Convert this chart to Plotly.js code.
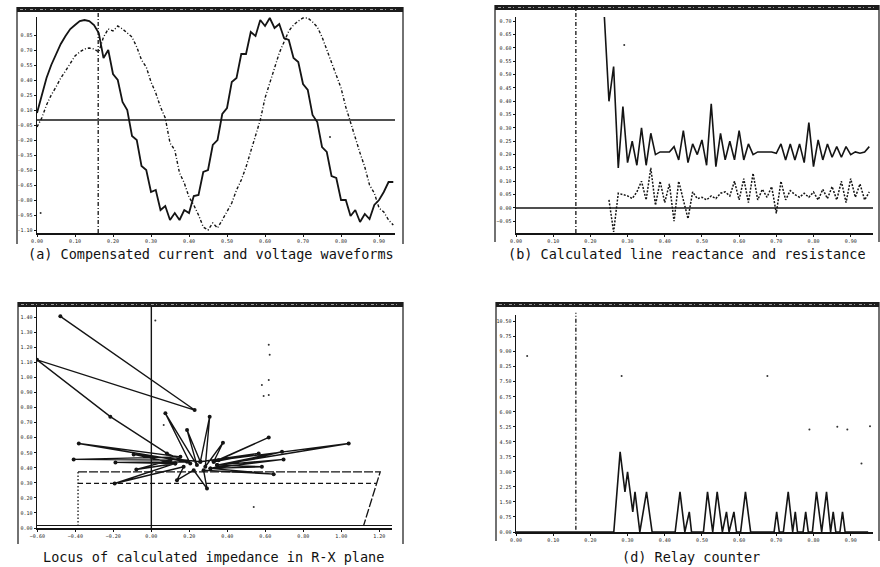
<!DOCTYPE html>
<html><head><meta charset="utf-8">
<script src="https://cdn.plot.ly/plotly-3.0.1.min.js"></script>
<style>html,body{margin:0;padding:0;background:#fff}#chart{width:880px;height:567px}</style>
</head><body><div id="chart"></div>
<script>
const W = 880, H = 567;

// ---------- (a) compensated current and voltage waveforms ----------
const DT = 0.0125;              // sample step (time units of the x axis)
const current = [0.07,0.25,0.42,0.55,0.66,0.76,0.84,0.91,0.95,0.99,1.00,0.99,0.95,0.87,
  0.62,0.70,0.46,0.40,0.18,0.10,-0.16,-0.20,-0.46,-0.50,-0.72,-0.70,-0.90,-0.86,-1.00,-0.93,
  -1.00,-0.90,-0.93,-0.76,-0.75,-0.52,-0.50,-0.25,-0.20,0.06,0.12,0.38,0.42,0.66,0.66,0.88,
  0.84,1.00,0.94,1.02,0.92,0.96,0.82,0.80,0.62,0.58,0.36,0.30,0.05,-0.02,-0.27,-0.32,-0.56,
  -0.58,-0.80,-0.80,-0.96,-0.90,-1.02,-0.94,-0.99,-0.85,-0.80,-0.72,-0.62,-0.62];
const voltage = [-0.07,0.02,0.15,0.25,0.33,0.42,0.49,0.57,0.64,0.68,0.71,0.72,0.71,0.68,
  0.83,0.91,0.89,0.94,0.91,0.87,0.83,0.73,0.60,0.53,0.38,0.27,0.13,0.02,-0.23,-0.30,
  -0.53,-0.63,-0.77,-0.85,-0.95,-1.07,-1.10,-1.03,-1.08,-1.00,-0.92,-0.83,-0.70,-0.60,
  -0.47,-0.32,-0.15,0.00,0.22,0.37,0.53,0.67,0.78,0.89,0.95,0.99,1.02,1.02,0.98,0.93,
  0.83,0.70,0.57,0.43,0.32,0.13,-0.03,-0.17,-0.33,-0.47,-0.65,-0.73,-0.88,-0.92,-1.00,-1.05];
const faultTime = 0.161;
const waveSpeckT = [0.0096, 0.771];
const waveSpeckV = [-0.93, -0.17];

// ---------- (b) calculated line reactance and resistance ----------
const reactanceStart = 19;      // first sample index of the estimate
const reactance = [0.72,0.40,0.53,0.15,0.38,0.17,0.25,0.16,0.30,0.16,0.28,0.20,0.21,0.21,0.21,
  0.23,0.18,0.29,0.17,0.24,0.20,0.255,0.16,0.39,0.155,0.28,0.18,0.25,0.18,0.29,0.18,0.24,0.20,
  0.21,0.21,0.21,0.21,0.205,0.24,0.18,0.24,0.18,0.24,0.17,0.32,0.155,0.255,0.18,0.24,0.19,0.23,
  0.19,0.23,0.20,0.21,0.205,0.21,0.23];
const resistanceStart = 20;
const resistance = [0.03,-0.09,0.055,0.05,0.045,0.035,0.06,0.10,0.03,0.15,0.01,0.10,0.02,0.09,
  -0.05,0.10,0.03,-0.04,0.06,0.035,0.04,0.03,0.045,0.035,0.055,0.06,0.045,0.10,0.03,0.11,0.02,
  0.13,0.03,0.07,0.04,0.08,-0.02,0.10,0.03,0.065,0.05,0.04,0.055,0.04,0.06,0.03,0.07,0.035,0.08,
  0.03,0.10,0.02,0.11,0.04,0.09,0.03,0.06];

// ---------- (c) locus of impedance in R-X plane ----------
const locusR = [-0.479,0.228,-0.602,-0.216,0.082,0.205,0.074,0.240,0.188,0.258,0.307,0.284,0.377,
  0.328,0.618,0.354,1.039,0.346,0.688,0.311,0.696,0.346,0.582,0.311,0.644,0.275,0.293,0.223,0.135,
  0.170,-0.193,0.126,-0.079,0.100,-0.409,0.153,-0.382,0.188,-0.189,0.126,-0.093,0.258,0.565,0.328];
const locusX = [1.407,0.784,1.118,0.740,0.496,0.429,0.762,0.418,0.651,0.440,0.740,0.407,0.567,
  0.440,0.602,0.451,0.562,0.418,0.507,0.396,0.456,0.418,0.407,0.396,0.358,0.384,0.262,0.384,0.318,
  0.407,0.296,0.429,0.389,0.451,0.456,0.473,0.562,0.440,0.436,0.429,0.489,0.440,0.496,0.440];
const charTopR = [-0.386, 1.205, 1.118], charTopX = [0.373, 0.373, 0.018];
const charLowR = [-0.386, 1.188],        charLowX = [0.296, 0.296];
const charLeftR = [-0.386, -0.386],      charLeftX = [0.373, 0.007];
const rxSpeckR = [0.618,0.623,0.618,0.582,0.591,0.618,0.021,0.539,0.065];
const rxSpeckX = [1.218,1.151,0.984,0.951,0.878,0.884,1.380,0.140,0.684];

// ---------- (d) relay counter ----------
const counterT = [0,0.263,0.280,0.293,0.300,0.314,0.320,0.333,0.351,0.366,0.428,0.441,0.454,0.466,
  0.472,0.504,0.515,0.529,0.541,0.555,0.566,0.573,0.586,0.593,0.604,0.617,0.631,0.694,0.701,0.708,
  0.719,0.732,0.744,0.751,0.757,0.772,0.779,0.786,0.797,0.808,0.822,0.835,0.846,0.853,0.860,0.871,
  0.878,0.885,0.947];
const counterN = [0,0,4,2,3,1,2,0,2,0,0,2,0,1,0,0,2,0,2,0,1,0,1,0,0,2,0,0,1,0,0,2,0,1,0,0,1,0,0,
  2,0,2,0,1,0,0,1,0,0];
const cntSpeckT = [0.030,0.284,0.676,0.789,0.864,0.891,0.952,0.929];
const cntSpeckN = [8.78,7.78,7.78,5.12,5.25,5.12,5.28,3.42];

// ---------- tick labels ----------
const timeTicks = [0,0.1,0.2,0.3,0.4,0.5,0.6,0.7,0.8,0.9];
const timeLabels = ['0.00','0.10','0.20','0.30','0.40','0.50','0.60','0.70','0.80','0.90'];
const waveTicks = [-1.10,-0.95,-0.80,-0.65,-0.50,-0.35,-0.20,-0.05,0.10,0.25,0.40,0.55,0.70,0.85];
const waveLabels = ['-1.10','-0.95','-0.80','-0.65','-0.50','-0.35','-0.20','-0.05','0.10','0.25','0.40','0.55','0.70','0.85'];

const captions = ['(a) Compensated current and voltage waveforms',
  '(b) Calculated line reactance and resistance',
  'Locus of calculated impedance in R-X plane',
  '(d) Relay counter'];

// ---------- helpers ----------
const px = v => v / W, py = v => 1 - v / H;
const INK = '#141414';
const tickFont = {family: 'DejaVu Sans Mono, monospace', size: 5, color: '#222'};
function axis(domain, range, extra) {
  return Object.assign({domain, range, showline: true, linecolor: INK, linewidth: 1.5,
    ticks: 'outside', ticklen: 2, tickwidth: 1, tickcolor: INK, showgrid: false,
    zeroline: false, tickfont: tickFont, fixedrange: true}, extra || {});
}
const tA = current.map((_, i) => i * DT);
const tX = reactance.map((_, k) => (reactanceStart + k) * DT);
const tR = resistance.map((_, k) => (resistanceStart + k) * DT);

const traces = [
  {x: tA, y: current, xaxis: 'x', yaxis: 'y', mode: 'lines', line: {color: INK, width: 1.8}},
  {x: tA, y: voltage, xaxis: 'x', yaxis: 'y', mode: 'lines', line: {color: INK, width: 1.4, dash: '3px,2px,1px,2px'}},
  {x: waveSpeckT, y: waveSpeckV, xaxis: 'x', yaxis: 'y', mode: 'markers', marker: {color: '#333', size: 2}},

  {x: tX, y: reactance, xaxis: 'x2', yaxis: 'y2', mode: 'lines', line: {color: INK, width: 1.6}},
  {x: tR, y: resistance, xaxis: 'x2', yaxis: 'y2', mode: 'lines', line: {color: INK, width: 1.5, dash: '2px,1.5px'}},
  {x: [0.291], y: [0.611], xaxis: 'x2', yaxis: 'y2', mode: 'markers', marker: {color: '#333', size: 2}},

  {x: charTopR, y: charTopX, xaxis: 'x3', yaxis: 'y3', mode: 'lines', line: {color: INK, width: 1.3, dash: '9px,2px'}},
  {x: charLowR, y: charLowX, xaxis: 'x3', yaxis: 'y3', mode: 'lines', line: {color: INK, width: 1.3, dash: '5px,3px'}},
  {x: charLeftR, y: charLeftX, xaxis: 'x3', yaxis: 'y3', mode: 'lines', line: {color: INK, width: 1.3, dash: '1.5px,2px'}},
  {x: locusR, y: locusX, xaxis: 'x3', yaxis: 'y3', mode: 'lines+markers',
    line: {color: INK, width: 1.4}, marker: {color: INK, size: 4}},
  {x: rxSpeckR, y: rxSpeckX, xaxis: 'x3', yaxis: 'y3', mode: 'markers', marker: {color: '#333', size: 2}},

  {x: counterT, y: counterN, xaxis: 'x4', yaxis: 'y4', mode: 'lines', line: {color: INK, width: 1.6}},
  {x: cntSpeckT, y: cntSpeckN, xaxis: 'x4', yaxis: 'y4', mode: 'markers', marker: {color: '#333', size: 2}}
];

// panel frames: [left, right, top, bottom] in pixels
const frames = [[17, 403, 7, 244], [495, 879, 5, 242], [18, 403, 302, 544], [496, 879, 302, 541]];
const shapes = [];
frames.forEach(([l, r, t, b]) => {
  shapes.push({type: 'line', xref: 'paper', yref: 'paper', x0: px(l), x1: px(l), y0: py(t), y1: py(b), line: {color: INK, width: 1.2}});
  shapes.push({type: 'line', xref: 'paper', yref: 'paper', x0: px(r), x1: px(r), y0: py(t), y1: py(b), line: {color: INK, width: 1.2}});
  shapes.push({type: 'rect', xref: 'paper', yref: 'paper', x0: px(l), x1: px(r), y0: py(t), y1: py(t + 5), fillcolor: '#1c1c1c', line: {width: 0}});
  shapes.push({type: 'line', xref: 'paper', yref: 'paper', x0: px(l + 3), x1: px(r - 3), y0: py(t + 2.5), y1: py(t + 2.5), line: {color: '#9a9a9a', width: 1, dash: '3px,2px,1px,4px'}});
});
// fault-inception markers and reference lines
shapes.push({type: 'line', xref: 'x', yref: 'y domain', x0: faultTime, x1: faultTime, y0: 0, y1: 1.023, line: {color: INK, width: 1.3, dash: '4px,2px,1px,2px'}});
shapes.push({type: 'line', xref: 'x2', yref: 'y2 domain', x0: faultTime, x1: faultTime, y0: 0, y1: 1.056, line: {color: INK, width: 1.3, dash: '4px,2px,1px,2px'}});
shapes.push({type: 'line', xref: 'x4', yref: 'y4 domain', x0: faultTime, x1: faultTime, y0: 0.01, y1: 1.01, line: {color: INK, width: 1.3, dash: '4px,2px,1px,2px'}});
shapes.push({type: 'line', xref: 'x domain', yref: 'y', x0: 0, x1: 1, y0: 0, y1: 0, line: {color: INK, width: 1.5}});
shapes.push({type: 'line', xref: 'x2 domain', yref: 'y2', x0: 0, x1: 1, y0: 0, y1: 0, line: {color: INK, width: 1.5}});
shapes.push({type: 'line', xref: 'x3', yref: 'y3 domain', x0: 0, x1: 0, y0: 0, y1: 1, line: {color: INK, width: 1.4}});
shapes.push({type: 'line', xref: 'x3 domain', yref: 'paper', x0: 0, x1: 1, y0: py(525.5), y1: py(525.5), line: {color: INK, width: 1}});

const capFont = {family: 'DejaVu Sans Mono, monospace', size: 13.5, color: '#111'};
const capPos = [[211, 254], [687, 254], [213, 557], [691, 557]];
const annotations = captions.map((c, i) => ({text: c, xref: 'paper', yref: 'paper',
  x: px(capPos[i][0]), y: py(capPos[i][1]), xanchor: 'center', yanchor: 'middle',
  showarrow: false, font: capFont}));

const layout = {
  width: W, height: H, autosize: false, showlegend: false,
  margin: {l: 0, r: 0, t: 0, b: 0}, paper_bgcolor: '#fff', plot_bgcolor: '#fff',
  xaxis: axis([px(37), px(395)], [0, 0.942], {anchor: 'y', tickvals: timeTicks, ticktext: timeLabels}),
  yaxis: axis([py(233), py(17)], [-1.13, 1.03], {anchor: 'x', tickvals: waveTicks, ticktext: waveLabels}),
  xaxis2: axis([px(516), px(873)], [0, 0.96], {anchor: 'y2', tickvals: timeTicks, ticktext: timeLabels}),
  yaxis2: axis([py(233), py(17)], [-0.094, 0.716], {anchor: 'x2', dtick: 0.05, tick0: 0, tickformat: '.2f'}),
  xaxis3: axis([px(37), px(392)], [-0.602, 1.267], {anchor: 'y3', dtick: 0.2, tick0: 0, tickformat: '.2f'}),
  yaxis3: axis([py(528), py(307)], [0, 1.469], {anchor: 'x3', dtick: 0.1, tick0: 0, tickformat: '.2f'}),
  xaxis4: axis([px(516), px(873)], [0, 0.96], {anchor: 'y4', tickvals: timeTicks, ticktext: timeLabels}),
  yaxis4: axis([py(532), py(315)], [0, 10.83], {anchor: 'x4', dtick: 0.75, tick0: 0, tickformat: '.2f'}),
  shapes, annotations
};

Plotly.newPlot('chart', traces, layout, {displayModeBar: false, staticPlot: true});
</script>
</body></html>
